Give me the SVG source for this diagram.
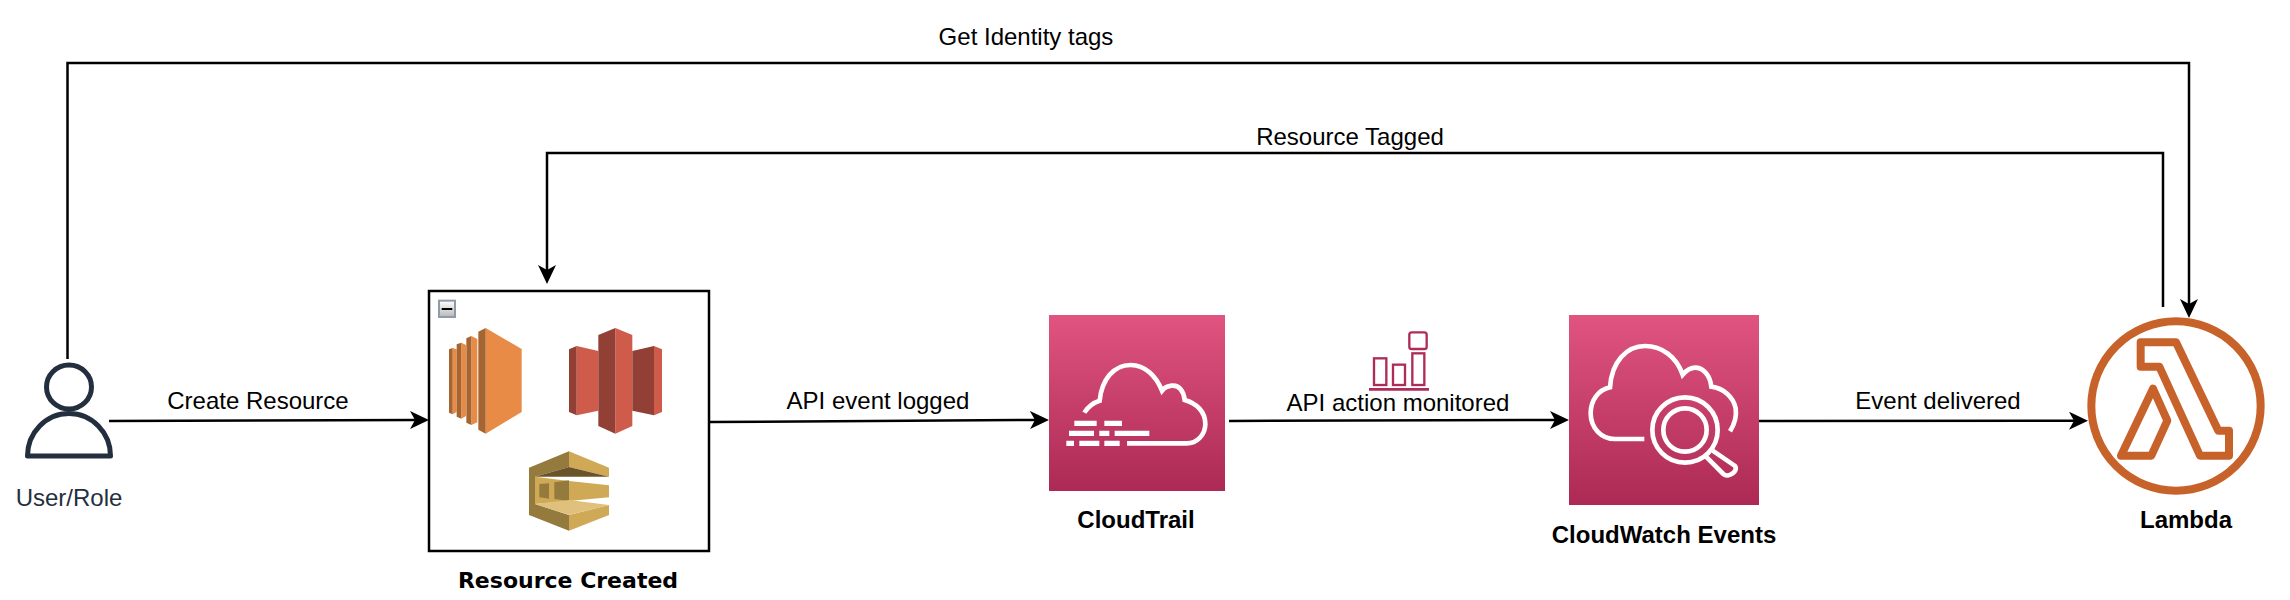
<svg xmlns="http://www.w3.org/2000/svg" width="2290" height="600" viewBox="0 0 2290 600">
<style>
text{font-family:"Liberation Sans",Arial,sans-serif;font-size:24px;fill:#000;text-anchor:middle}
.b{font-weight:700}
.c{fill:none;stroke:#000;stroke-width:2.5;marker-end:url(#arrow)}
.w{fill:none;stroke:#fff;stroke-width:14}
.wf{fill:#fff}
</style>
<defs>
<marker id="arrow" markerUnits="userSpaceOnUse" markerWidth="19" markerHeight="18" viewBox="0 0 19 18" refX="6" refY="9" orient="auto"><path d="M19 9L0 0L5 9L0 18Z" fill="#000"/></marker>
<linearGradient id="pink" x1="0" y1="0" x2="0" y2="1"><stop offset="0" stop-color="#E05480"/><stop offset="1" stop-color="#AC2A55"/></linearGradient>
<linearGradient id="btn" x1="0" y1="0" x2="0" y2="1"><stop offset="0" stop-color="#fff"/><stop offset="1" stop-color="#b8b8b8"/></linearGradient>
</defs>
<rect width="2290" height="600" fill="#fff"/>
<g id="user">
<g fill="none" stroke="#232F3E" stroke-width="5" stroke-linejoin="round"><ellipse cx="69" cy="387" rx="22.500" ry="22"/><path d="M27.500 456a41.500 42.500 0 0 1 83 0Z"/></g>
<text x="69" y="506" style="fill:#232F3E">User/Role</text>
</g>
<g id="resource-created">
<rect x="429" y="291" width="280" height="260" fill="#fff" stroke="#000" stroke-width="2.500"/>
<g transform="translate(420 280) scale(.33333)">
<rect x="57" y="62" width="48" height="49" fill="url(#btn)" stroke="#8F9AAB" stroke-width="6"/><path d="M65 87H97" stroke="#000" stroke-width="6"/>
<g id="ec2">
<path fill="#E78B47" d="M197 144L305 207V396L197 461ZM154 168L172 177V427L154 435ZM124 188L138 195V408L124 416ZM98 204L110 208V396L98 403Z"/>
<path fill="#A66431" d="M175 155L197 144V461L175 449ZM139 175L154 168V435L139 428ZM110 193L124 188V416L110 410ZM87 208L98 204V403L87 398Z"/>
</g>
<g id="redshift">
<path fill="#CF5B4B" d="M470 198L535 213V392L470 406ZM586 144L637 165V438L586 461ZM702 198L726 208V396L702 406Z"/>
<path fill="#923F35" d="M447 208L470 198V406L447 396ZM535 165L586 144V461L535 438ZM637 213L702 198V406L637 392Z"/>
</g>
<g id="sqs">
<path fill="#957A3D" d="M327 563L447 514V561L345 590V672L447 705V752L327 705Z"/>
<path fill="#CFA955" d="M447 514L567 563V590L447 561ZM345 590L447 603V663L345 672ZM447 603L567 616V652L447 663ZM447 705L567 675V705L447 752Z"/>
<path fill="#6A5229" d="M345 590L447 561L567 590Z"/>
<path fill="#957A3D" d="M358 612L387 610V656L358 652ZM403 607L447 601V663L403 657Z"/>
<path fill="#DFC07D" d="M345 672L447 660L567 675L447 705Z"/>
</g>
</g>
<text class="b" x="568" y="588" style="font-family:'DejaVu Sans',sans-serif;font-size:22px">Resource Created</text>
</g>
<g id="cloudtrail">
<rect x="1049" y="315" width="176" height="176" fill="url(#pink)"/>
<g transform="translate(1030 300) scale(.33333)">
<path class="w" d="M163 338C175 318 190 308 209 302C215 240 250 195 302 195C345 195 378 228 396 272C410 255 440 250 452 268C462 280 463 290 464 300C500 310 526 335 526 372C526 405 500 430 470 430H291"/>
<path class="wf" d="M133 362H200V378H133ZM223 362H276V378H223ZM117 392H192V408H117ZM208 392H238V408H208ZM254 392H358V408H254ZM109 422H132V438H109ZM148 422H208V438H148ZM223 422H269V438H223Z"/>
</g>
<text class="b" x="1136" y="528">CloudTrail</text>
</g>
<g id="monitor-icon" transform="translate(1220 320) scale(.33333)" fill="none" stroke="#AF2B59" stroke-width="7">
<rect x="462" y="115" width="37" height="80"/><rect x="519" y="134" width="36" height="61"/><rect x="577" y="100" width="36" height="95"/>
<rect x="568" y="37" width="52" height="50" rx="7"/><path d="M447 208H627" stroke-width="8"/>
</g>
<g id="cloudwatch-events">
<rect x="1569" y="315" width="190" height="190" fill="url(#pink)"/>
<g transform="translate(1340 300) scale(.33333)">
<path class="w" d="M1170 394C1185 370 1190 345 1187 325C1180 290 1150 265 1114 260C1110 225 1090 205 1068 203C1050 202 1040 210 1028 224C1010 170 965 138 915 138C860 138 815 185 810 262C775 270 752 300 752 340C752 385 785 417 825 417H913"/>
<circle class="w" cx="1035" cy="390" r="98"/><circle class="w" cx="1035" cy="390" r="65"/>
<path class="w" d="M1098 470L1150 522C1165 536 1198 512 1184 497L1118 452"/>
</g>
<text class="b" x="1664" y="543">CloudWatch Events</text>
</g>
<g id="lambda">
<g transform="translate(2040 280) scale(.33333)" fill="none" stroke="#C7622A" stroke-width="24" stroke-linejoin="round">
<circle cx="408" cy="378" r="254"/>
<path d="M302 187H408L535 452H567V527H480L358 260H302Z"/>
<path d="M339 326L382 422L334 527H243Z"/>
</g>
<text class="b" x="2186" y="528">Lambda</text>
</g>
<g id="connectors">
<path class="c" d="M109 421L416 420"/>
<path class="c" d="M709 422L1036 420"/>
<path class="c" d="M1229 421L1556 420"/>
<path class="c" d="M1759 421L2075 420.700"/>
<path class="c" d="M67.500 359V63H2189V305"/>
<path class="c" d="M2163 307V153H547V271"/>
</g>
<g id="labels">
<text x="258" y="409">Create Resource</text>
<text x="878" y="409">API event logged</text>
<text x="1398" y="411">API action monitored</text>
<text x="1938" y="409">Event delivered</text>
<text x="1026" y="45">Get Identity tags</text>
<text x="1350" y="145">Resource Tagged</text>
</g>
</svg>
